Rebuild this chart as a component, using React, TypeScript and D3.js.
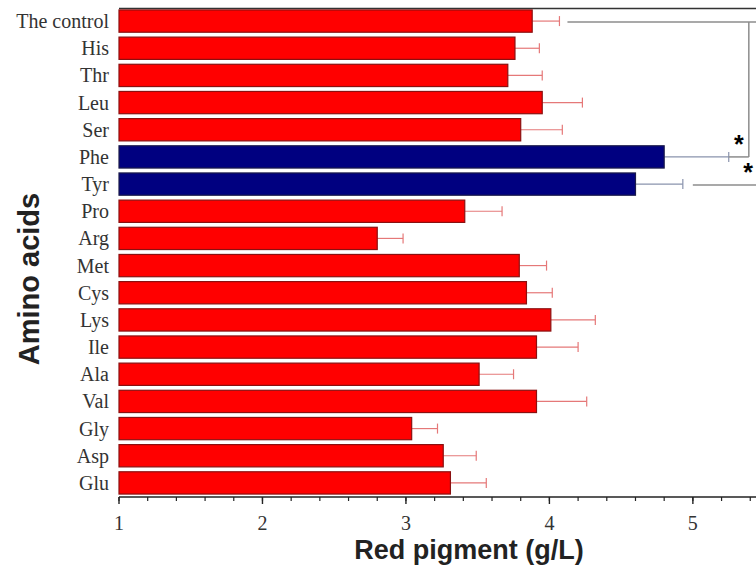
import React, { useEffect, useRef } from "react";
import * as d3 from "d3";

const categories = [
  "The control", "His", "Thr", "Leu", "Ser", "Phe", "Tyr", "Pro", "Arg",
  "Met", "Cys", "Lys", "Ile", "Ala", "Val", "Gly", "Asp", "Glu",
];
const means = [
  3.88, 3.76, 3.71, 3.95, 3.8, 4.8, 4.6, 3.41, 2.8,
  3.79, 3.84, 4.01, 3.91, 3.51, 3.91, 3.04, 3.26, 3.31,
];
const errors = [
  0.19, 0.17, 0.24, 0.28, 0.29, 0.45, 0.33, 0.26, 0.18,
  0.19, 0.18, 0.31, 0.29, 0.24, 0.35, 0.18, 0.23, 0.25,
];
const highlighted = ["Phe", "Tyr"];
const xTicks = [1, 2, 3, 4, 5];
// significance brackets: control vs. each highlighted amino acid
const brackets = [
  { from: "The control", to: "Phe", at: 5.39 },
  { from: "The control", to: "Tyr", at: 5.6 },
];

const App = () => {
  const ref = useRef(null);

  useEffect(() => {
    document.body.style.margin = "0";
    const width = 756;
    const height = 573;
    const left = 119;
    const axisY = 497;

    const svg = d3.select(ref.current);
    svg.selectAll("*").remove();
    svg.attr("width", width).attr("height", height);

    const x = d3.scaleLinear().domain([1, 5.44]).range([left, width]);
    const y = d3
      .scaleBand()
      .domain(categories)
      .range([7.5, 496.5])
      .paddingInner(0.18)
      .paddingOuter(0.09);

    const data = categories.map((c, i) => ({ name: c, value: means[i], err: errors[i] }));

    // top frame
    svg
      .append("line")
      .attr("x1", left)
      .attr("x2", width)
      .attr("y1", 8.5)
      .attr("y2", 8.5)
      .attr("stroke", "#333")
      .attr("stroke-width", 1.5);

    // error bars
    const eb = svg.append("g");
    data.forEach((d) => {
      const hi = highlighted.includes(d.name);
      const col = hi ? "#8a93ad" : "#e57878";
      const cy = y(d.name) + y.bandwidth() / 2;
      const x2 = x(d.value + d.err);
      eb.append("line")
        .attr("x1", x(d.value))
        .attr("x2", x2)
        .attr("y1", cy)
        .attr("y2", cy)
        .attr("stroke", col)
        .attr("stroke-width", 1.2);
      eb.append("line")
        .attr("x1", x2)
        .attr("x2", x2)
        .attr("y1", cy - 5)
        .attr("y2", cy + 5)
        .attr("stroke", col)
        .attr("stroke-width", 1.2);
    });

    // bars
    svg
      .append("g")
      .selectAll("rect")
      .data(data)
      .enter()
      .append("rect")
      .attr("x", x(1))
      .attr("y", (d) => y(d.name))
      .attr("width", (d) => x(d.value) - x(1))
      .attr("height", y.bandwidth())
      .attr("fill", (d) => (highlighted.includes(d.name) ? "#000080" : "#ff0000"))
      .attr("stroke", (d) => (highlighted.includes(d.name) ? "#1a1a4a" : "#8a1010"))
      .attr("stroke-width", 1.2);

    // significance brackets
    const bg = svg.append("g").attr("stroke", "#8c8c8c").attr("stroke-width", 1.5).attr("fill", "none");
    const ctrl = data[0];
    const ctrlY = y(ctrl.name) + y.bandwidth() / 2 + 1;
    bg.append("line")
      .attr("x1", x(ctrl.value + ctrl.err) + 8)
      .attr("x2", width)
      .attr("y1", ctrlY)
      .attr("y2", ctrlY);
    brackets.forEach((b, i) => {
      const d = data.find((e) => e.name === b.to);
      const cy = y(d.name) + y.bandwidth() / 2 + (i === 0 ? 0 : 1);
      const bx = x(b.at);
      bg.append("line")
        .attr("x1", i === 0 ? x(d.value + d.err) : x(d.value + d.err) + 10)
        .attr("x2", Math.min(bx, width))
        .attr("y1", cy)
        .attr("y2", cy);
      bg.append("line").attr("x1", bx).attr("x2", bx).attr("y1", ctrlY).attr("y2", cy);
      svg
        .append("text")
        .attr("x", i === 0 ? bx - 10 : width - 8)
        .attr("y", cy - 4)
        .attr("text-anchor", "middle")
        .style("font-family", "Liberation Sans, Arial, sans-serif")
        .style("font-weight", "bold")
        .style("font-size", "25px")
        .text("*");
    });

    // x axis
    const xAxis = svg.append("g").attr("transform", "translate(0," + axisY + ")");
    xAxis
      .append("line")
      .attr("x1", left)
      .attr("x2", width)
      .attr("stroke", "#222")
      .attr("stroke-width", 1.5);
    xAxis
      .selectAll("line.minor")
      .data(d3.range(1, 5.45, 0.2))
      .enter()
      .append("line")
      .attr("class", "minor")
      .attr("x1", (d) => x(d))
      .attr("x2", (d) => x(d))
      .attr("y1", 0)
      .attr("y2", 4)
      .attr("stroke", "#222")
      .attr("stroke-width", 1.2);
    xAxis
      .selectAll("line.major")
      .data(xTicks)
      .enter()
      .append("line")
      .attr("class", "major")
      .attr("x1", (d) => x(d))
      .attr("x2", (d) => x(d))
      .attr("y1", 0)
      .attr("y2", 7)
      .attr("stroke", "#222")
      .attr("stroke-width", 1.4);
    xAxis
      .selectAll("text")
      .data(xTicks)
      .enter()
      .append("text")
      .attr("x", (d) => x(d))
      .attr("y", 33)
      .attr("text-anchor", "middle")
      .style("font-family", "Liberation Serif, Times New Roman, serif")
      .style("font-size", "20px")
      .attr("fill", "#333")
      .text((d) => d);

    // category labels
    svg
      .append("g")
      .selectAll("text")
      .data(categories)
      .enter()
      .append("text")
      .attr("x", 109)
      .attr("y", (d) => y(d) + y.bandwidth() / 2)
      .attr("dy", "0.35em")
      .attr("text-anchor", "end")
      .style("font-family", "Liberation Serif, Times New Roman, serif")
      .style("font-size", "20px")
      .attr("fill", "#333")
      .text((d) => d);

    // axis titles
    svg
      .append("text")
      .attr("x", 469)
      .attr("y", 559)
      .attr("text-anchor", "middle")
      .style("font-family", "Liberation Sans, Arial, sans-serif")
      .style("font-weight", "bold")
      .style("font-size", "27px")
      .attr("fill", "#222")
      .text("Red pigment (g/L)");
    svg
      .append("text")
      .attr("transform", "translate(39,279)rotate(-90)")
      .attr("text-anchor", "middle")
      .style("font-family", "Liberation Sans, Arial, sans-serif")
      .style("font-weight", "bold")
      .style("font-size", "29px")
      .attr("fill", "#222")
      .text("Amino acids");
  }, []);

  return (
    <div id="chartArea">
      <svg ref={ref} style={{ display: "block" }}></svg>
    </div>
  );
};

export default App;
